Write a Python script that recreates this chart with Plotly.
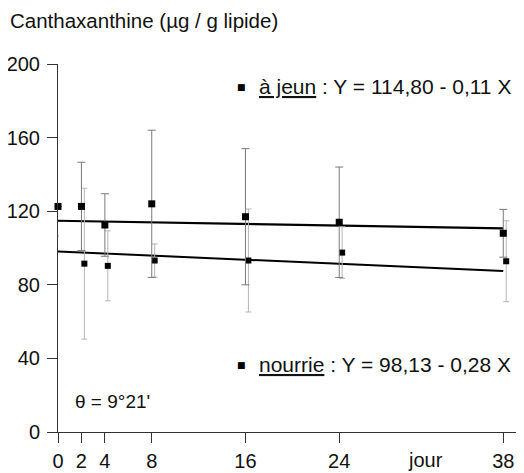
import plotly.graph_objects as go

# ---- data ----
days = [0, 2, 4, 8, 16, 24, 38]

jeun_mean = [122.6, 122.6, 112.5, 124.0, 117.0, 114.0, 108.0]
jeun_err  = [0.0, 24.0, 17.0, 40.0, 37.0, 30.0, 13.0]

nourrie_mean = [106.5, 91.5, 90.3, 93.2, 93.2, 97.5, 92.8]
nourrie_err  = [0.0, 41.0, 19.0, 9.0, 28.0, 14.0, 22.0]

jeun_intercept, jeun_slope = 114.80, -0.11
nourrie_intercept, nourrie_slope = 98.13, -0.28

x_ticks = [0, 2, 4, 8, 16, 24, 38]
y_ticks = [0, 40, 80, 120, 160, 200]

FONT = "Liberation Sans, Arial, Helvetica, sans-serif"
TXT = "#111"

fig = go.Figure()

# regression lines
line_x = [days[0], days[-1]]
fig.add_trace(go.Scatter(
    x=line_x, y=[jeun_intercept + jeun_slope * d for d in line_x],
    mode="lines", line=dict(color="black", width=2.2), hoverinfo="skip", cliponaxis=False))
fig.add_trace(go.Scatter(
    x=line_x, y=[nourrie_intercept + nourrie_slope * d for d in line_x],
    mode="lines", line=dict(color="black", width=2), hoverinfo="skip", cliponaxis=False))

# nourrie points (slightly shifted right)
fig.add_trace(go.Scatter(
    x=[d + 0.25 if d > 0 else d - 0.2 for d in days], y=nourrie_mean,
    mode="markers", cliponaxis=False,
    marker=dict(symbol="square", size=6, color="black"),
    error_y=dict(type="data", array=nourrie_err, color="#b5b5b5", thickness=1, width=3)))

# à jeun points
fig.add_trace(go.Scatter(
    x=days, y=jeun_mean,
    mode="markers", cliponaxis=False,
    marker=dict(symbol="square", size=7, color="black"),
    error_y=dict(type="data", array=jeun_err, color="#7a7a7a", thickness=1, width=4)))

# figure is 8px smaller than the window to compensate for the page's body margin
L, T, B = 50, 56, 40.5
W, H = 516, 465
plot_h = H - T - B

annotations = [
    dict(text="Canthaxanthine (µg / g lipide)", xref="paper", yref="paper",
         x=-L / (W - L), y=1 + (T - 12.5) / plot_h, xanchor="left", yanchor="middle",
         showarrow=False, font=dict(size=20.5, family=FONT, color=TXT)),
    dict(text="■", xref="x", yref="y", x=15.7, y=187.5, xanchor="center", yanchor="middle",
         showarrow=False, font=dict(size=9, family="DejaVu Sans", color="black")),
    dict(text="<u>à jeun</u> : Y = 114,80 - 0,11 X", xref="x", yref="y",
         x=17.0, y=188, xanchor="left", yanchor="middle", showarrow=False,
         font=dict(size=21, family=FONT, color=TXT)),
    dict(text="■", xref="x", yref="y", x=15.7, y=36.2, xanchor="center", yanchor="middle",
         showarrow=False, font=dict(size=9, family="DejaVu Sans", color="black")),
    dict(text="<u>nourrie</u> : Y = 98,13 - 0,28 X", xref="x", yref="y",
         x=17.0, y=36.6, xanchor="left", yanchor="middle", showarrow=False,
         font=dict(size=21, family=FONT, color=TXT)),
    dict(text="θ = 9°21'", xref="x", yref="y",
         x=1.3, y=16.6, xanchor="left", yanchor="middle", showarrow=False,
         font=dict(size=19, family=FONT, color=TXT)),
    dict(text="jour", xref="x", yref="paper",
         x=31.36, y=-28.5 / plot_h, xanchor="center", yanchor="middle", showarrow=False,
         font=dict(size=20, family=FONT, color=TXT)),
]

fig.update_layout(
    width=W, height=H,
    margin=dict(l=L, r=0, t=T, b=B, pad=0, autoexpand=False),
    paper_bgcolor="white", plot_bgcolor="white",
    showlegend=False,
    font=dict(family=FONT, size=20, color=TXT),
    annotations=annotations,
    xaxis=dict(range=[0, 39.77], tickvals=x_ticks, ticktext=[str(t) for t in x_ticks],
               automargin=False,
               showgrid=False, zeroline=False, showline=True, linecolor="#333", linewidth=1,
               ticks="outside", ticklen=10, tickcolor="#333", tickwidth=1,
               ticklabelstandoff=1, tickfont=dict(size=20, family=FONT, color=TXT)),
    yaxis=dict(range=[0, 200], tickvals=y_ticks, automargin=False,
               showgrid=False, zeroline=False, showline=True, linecolor="#333", linewidth=1,
               ticks="outside", ticklen=10, tickcolor="#333", tickwidth=1,
               ticklabelstandoff=3, tickfont=dict(size=20, family=FONT, color=TXT)),
)

fig.write_html("out.html")
